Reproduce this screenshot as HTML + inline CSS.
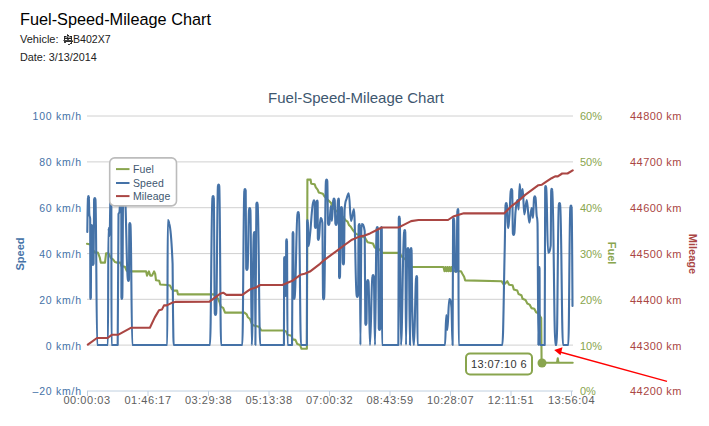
<!DOCTYPE html>
<html><head><meta charset="utf-8">
<style>
html,body{margin:0;padding:0;background:#fff;width:709px;height:426px;overflow:hidden}
body{font-family:"Liberation Sans",sans-serif;position:relative}
.h{position:absolute;left:20px;top:10px;font-size:16.3px;color:#000;white-space:nowrap}
.v{position:absolute;left:20px;font-size:11px;color:#222;white-space:nowrap}
svg{position:absolute;left:0;top:0}
svg text{font-family:"Liberation Sans",sans-serif}
</style></head><body>
<div class="h">Fuel-Speed-Mileage Chart</div>
<div class="v" style="top:33px">Vehicle:</div>
<svg width="12" height="14" viewBox="62 33 12 14" style="left:62px;top:33px;position:absolute" shape-rendering="crispEdges"><rect x="67" y="34" width="1" height="1" fill="#666"/><rect x="67" y="35" width="2" height="1" fill="#222"/><rect x="64" y="36" width="2" height="1" fill="#222"/><rect x="66" y="36" width="4" height="1" fill="#888"/><rect x="70" y="36" width="2" height="1" fill="#222"/><rect x="64" y="37" width="1" height="1" fill="#333"/><rect x="65" y="37" width="2" height="1" fill="#aaa"/><rect x="67" y="37" width="1" height="1" fill="#333"/><rect x="68" y="37" width="3" height="1" fill="#aaa"/><rect x="71" y="37" width="1" height="1" fill="#333"/><rect x="64" y="38" width="8" height="1" fill="#222"/><rect x="64" y="39" width="1" height="1" fill="#333"/><rect x="67" y="39" width="2" height="1" fill="#555"/><rect x="71" y="39" width="1" height="1" fill="#333"/><rect x="63" y="40" width="1" height="1" fill="#888"/><rect x="64" y="40" width="8" height="1" fill="#444"/><rect x="72" y="40" width="1" height="1" fill="#888"/><rect x="64" y="41" width="9" height="1" fill="#333"/><rect x="64" y="42" width="2" height="1" fill="#444"/><rect x="71" y="42" width="1" height="1" fill="#333"/><rect x="70" y="43" width="2" height="1" fill="#333"/><rect x="68" y="44" width="2" height="1" fill="#444"/></svg>
<div class="v" style="top:33px;left:73px;font-size:10.6px">B402X7</div>
<div class="v" style="top:51px;font-size:10.8px">Date: 3/13/2014</div>
<svg width="709" height="426" viewBox="0 0 709 426">
<g stroke="#d0d0d0" stroke-width="1" fill="none">
<path d="M87 116H573M87 161.9H573M87 207.7H573M87 253.6H573M87 299.3H573M87 345.1H573"/>
</g>
<g stroke="#c0d0e0" stroke-width="1" fill="none">
<path d="M87 391H573"/>
<path d="M87.5 391V396M148 391V396M208.5 391V396M269 391V396M329.5 391V396M390 391V396M450.5 391V396M511 391V396M571.5 391V396"/>
</g>
<text x="356" y="103" text-anchor="middle" font-size="15" fill="#3e576f">Fuel-Speed-Mileage Chart</text>
<g font-size="10.5" fill="#4572a7" text-anchor="end" letter-spacing="0.75">
<text x="81.8" y="120">100 km/h</text>
<text x="81.8" y="166">80 km/h</text>
<text x="81.8" y="212">60 km/h</text>
<text x="81.8" y="258">40 km/h</text>
<text x="81.8" y="304">20 km/h</text>
<text x="81.8" y="350">0 km/h</text>
<text x="81.8" y="395">–20 km/h</text>
</g>
<g font-size="11" fill="#89a54e">
<text x="580" y="120">60%</text>
<text x="580" y="166">50%</text>
<text x="580" y="212">40%</text>
<text x="580" y="258">30%</text>
<text x="580" y="304">20%</text>
<text x="580" y="350">10%</text>
<text x="580" y="395">0%</text>
</g>
<g font-size="11" fill="#aa4643" letter-spacing="0.45">
<text x="630" y="120">44800 km</text>
<text x="630" y="166">44700 km</text>
<text x="630" y="212">44600 km</text>
<text x="630" y="258">44500 km</text>
<text x="630" y="304">44400 km</text>
<text x="630" y="350">44300 km</text>
<text x="630" y="395">44200 km</text>
</g>
<g font-size="11" fill="#606060" text-anchor="middle" letter-spacing="0.55">
<text x="87" y="404">00:00:03</text>
<text x="148" y="404">01:46:17</text>
<text x="208.5" y="404">03:29:38</text>
<text x="269" y="404">05:13:38</text>
<text x="329.5" y="404">07:00:32</text>
<text x="390" y="404">08:43:59</text>
<text x="450.5" y="404">10:28:07</text>
<text x="511" y="404">12:11:51</text>
<text x="571.5" y="404">13:56:04</text>
</g>
<text transform="translate(24,254) rotate(-90)" text-anchor="middle" font-size="11" font-weight="bold" fill="#4572a7">Speed</text>
<text transform="translate(608,253) rotate(90)" text-anchor="middle" font-size="11" font-weight="bold" fill="#89a54e">Fuel</text>
<text transform="translate(689,254) rotate(90)" text-anchor="middle" font-size="11" font-weight="bold" fill="#aa4643">Mileage</text>
<g fill="none" stroke-width="2.1" stroke-linejoin="round" stroke-linecap="round">
<path stroke="#89a54e" d="M87 243.8 L90.5 244.5 L93 250 L95 252.6 L97.9 252.6 L99.7 257.3 L100.8 262.6 L105 262.6 L106.1 253.2 L108.5 253.2 L110.8 257.9 L113.2 259.6 L114.9 262 L116.7 262.6 L120.5 262.6 L121.4 266.1 L124.9 266.7 L126.7 270.8 L129.6 271.4 L146.1 271.4 L147 275.6 L148.9 271.4 L150.3 275.6 L152 275.6 L154.1 271.4 L155.2 274 L156 280.3 L159.2 280.8 L160.2 284.5 L167.2 285 L170 285.5 L171.9 289.2 L173.8 290.6 L177.1 290.6 L178 294.4 L213.8 294.4 L217.9 298.5 L219.7 302.6 L220.9 306.7 L223.2 307.9 L225 312.6 L244.4 312.6 L246.7 314.4 L247.9 317.3 L250 319 L252 324 L253.8 325.5 L259 326.7 L261.4 330.5 L284.1 330.5 L286.5 331.9 L287.4 334.7 L291.6 335.7 L292.6 339.4 L295.4 339.9 L297.3 344.1 L300.1 345 L301.5 348.8 L306.9 348.8 L307.4 179.6 L310.6 179.6 L311.2 183.7 L314.7 184.3 L315.8 187.3 L317.6 189.6 L318.8 192.5 L322.9 193.7 L324.6 196.6 L326.4 198.4 L328.8 200.8 L331.1 203.1 L332.1 206.8 L336 210.7 L339.3 213.3 L343 217 L345.7 220.3 L347.6 221.6 L348.9 224.9 L350.8 226.8 L352.8 230 L356 233.9 L365 237.8 L367.6 242.3 L373 243.5 L374.7 247.6 L379.4 249.4 L382.3 252.9 L398.2 252.9 L400.5 254.6 L402.3 257 L405 259 L408 262 L411.9 267 L443.5 267 L444.5 271.3 L445.5 267 L446.5 271.3 L447.5 267 L448.5 271.3 L449.5 267 L450.5 271.3 L451.5 267 L452.5 271.2 L461 271.2 L462.5 274 L464.1 276.7 L465.2 280.4 L501.5 281.2 L503.8 284.7 L507.3 281.2 L509.1 284.7 L512.6 285.3 L513.8 289.4 L517.3 290.5 L518.5 294 L521.4 295.2 L522.6 298.8 L525.5 299.9 L527.3 303.5 L529.6 304.6 L531.4 308.1 L534.3 308.7 L536.1 312.3 L538.4 313.4 L540 316 L541.2 318 L541.6 362.7 L557 362.7 L557.8 358.3 L558.5 362.7 L572.7 362.7"/>
<path stroke="#4572a7" stroke-width="2.1" d="M87.3 232C87.30 232.00 87.73 199.00 88.02 197.5C88.21 196.00 88.31 196.00 88.5 196C88.63 196.00 88.69 196.00 88.82 197.5C89.01 199.00 89.11 209.00 89.3 214C89.66 219.00 89.84 214.00 90.2 219C90.25 224.00 90.27 296.00 90.32 297.5C90.35 299.00 90.37 299.00 90.4 299C90.59 299.00 90.69 299.00 90.88 297.5C90.98 296.00 91.02 228.00 91.12 226.5C91.31 225.00 91.41 225.00 91.6 225C91.81 225.00 91.91 225.00 92.12 226.5C92.22 228.00 92.28 262.00 92.38 263.5C92.59 265.00 92.69 265.00 92.9 265C93.18 265.00 93.32 265.00 93.6 263.5C93.80 262.00 93.90 201.00 94.1 199.5C94.38 198.00 94.52 198.00 94.8 198C95.08 198.00 95.22 198.00 95.5 199.5C96.18 201.00 96.52 345.00 97.2 345C101.50 345.00 103.65 345.00 107.95 345C108.13 345.00 108.22 228.00 108.4 228C108.88 228.00 109.12 236.00 109.6 236C109.98 236.00 110.18 195.00 110.56 193.5C110.82 192.00 110.94 192.00 111.2 192C111.25 192.00 111.28 192.00 111.326 193.5C111.40 195.00 111.44 345.00 111.515 345C113.98 345.00 115.22 345.00 117.69 345C118.01 345.00 118.18 216.00 118.5 214C118.90 212.00 119.10 214.00 119.5 212C119.86 210.00 120.04 193.00 120.4 191.5C120.64 190.00 120.76 190.00 121 190C121.11 190.00 121.17 190.00 121.28 191.5C121.34 193.00 121.36 296.00 121.42 297.5C121.53 299.00 121.59 299.00 121.7 299C121.94 299.00 122.06 299.00 122.3 297.5C122.66 296.00 122.84 190.00 123.2 190C123.92 190.00 124.28 190.00 125 196C126.12 202.00 126.68 278.00 127.8 279.5C128.08 281.00 128.22 281.00 128.5 281C128.71 281.00 128.81 281.00 129.02 279.5C129.12 278.00 129.18 226.00 129.28 224.5C129.49 223.00 129.59 223.00 129.8 223C130.08 223.00 130.22 223.00 130.5 224.5C131.22 226.00 131.58 345.00 132.3 345C146.28 345.00 153.28 345.00 167.26 345C167.48 345.00 167.58 220.00 167.8 220C168.40 220.00 168.70 220.00 169.3 224C170.62 228.00 171.28 232.96 172.6 264C172.76 267.76 172.84 299.43 173 311C173.29 331.83 173.43 345.00 173.72 345C188.23 345.00 195.49 345.00 210 345C210.96 345.00 211.44 199.00 212.4 197.5C212.68 196.00 212.82 196.00 213.1 196C213.38 196.00 213.52 196.00 213.8 197.5C214.20 199.00 214.40 312.00 214.8 313.5C215.08 315.00 215.22 315.00 215.5 315C215.78 315.00 215.92 315.00 216.2 313.5C216.88 312.00 217.22 187.50 217.9 186C218.18 184.50 218.32 184.50 218.6 184.5C218.88 184.50 219.02 184.50 219.3 186C220.02 187.50 220.38 345.00 221.1 345C229.58 345.00 233.82 345.00 242.3 345C243.10 345.00 243.50 192.00 244.3 190.5C244.58 189.00 244.72 189.00 245 189C245.28 189.00 245.42 189.00 245.7 190.5C245.90 192.00 246.00 267.00 246.2 268.5C246.48 270.00 246.62 270.00 246.9 270C247.18 270.00 247.32 270.00 247.6 268.5C248.16 267.00 248.44 211.00 249 209.5C249.28 208.00 249.42 208.00 249.7 208C249.98 208.00 250.12 208.00 250.4 209.5C250.96 211.00 251.24 345.00 251.8 345C252.60 345.00 253.00 235.00 253.8 233.5C254.08 232.00 254.22 232.00 254.5 232C254.64 232.00 254.72 232.00 254.86 233.5C255.08 235.00 255.18 345.00 255.4 345C255.78 345.00 255.98 205.50 256.36 204C256.62 202.50 256.74 202.50 257 202.5C257.28 202.50 257.42 202.50 257.7 204C258.70 205.50 259.20 345.00 260.2 345C269.70 345.00 274.44 345.00 283.94 345C284.03 345.00 284.07 260.00 284.156 258.5C284.21 257.00 284.24 257.00 284.3 257C284.51 257.00 284.61 257.00 284.82 258.5C284.92 260.00 284.98 293.00 285.08 294.5C285.29 296.00 285.39 296.00 285.6 296C285.76 296.00 285.84 296.00 286 294.5C286.08 293.00 286.12 242.40 286.2 240.9C286.36 239.40 286.44 239.40 286.6 239.4C286.75 239.40 286.83 239.40 286.978 240.9C287.20 242.40 287.32 345.00 287.545 345C289.35 345.00 290.25 345.00 292.055 345C292.28 345.00 292.40 235.00 292.622 233.5C292.77 232.00 292.85 232.00 293 232C293.16 232.00 293.24 232.00 293.4 233.5C293.48 235.00 293.52 296.00 293.6 297.5C293.76 299.00 293.84 299.00 294 299C294.28 299.00 294.42 299.00 294.7 297.5C295.82 296.00 296.38 215.00 297.5 213.5C297.78 212.00 297.92 212.00 298.2 212C298.48 212.00 298.62 212.00 298.9 213.5C299.74 215.00 300.16 345.00 301 345C303.34 345.00 304.51 345.00 306.85 345C306.96 345.00 307.01 223.00 307.12 221.5C307.19 220.00 307.23 220.00 307.3 220C307.49 220.00 307.59 220.00 307.78 221.5C308.07 223.00 308.21 246.00 308.5 246C309.10 246.00 309.40 240.51 310 235C311.32 222.87 311.98 203.40 313.3 201.9C313.58 200.40 313.72 200.40 314 200.4C314.24 200.40 314.36 200.40 314.6 201.9C314.72 203.40 314.78 225.00 314.9 226.5C315.14 228.00 315.26 228.00 315.5 228C315.78 228.00 315.92 228.00 316.2 226.5C316.36 225.00 316.44 203.50 316.6 202C316.88 200.50 317.02 200.50 317.3 200.5C317.44 200.50 317.52 200.50 317.66 202C317.73 203.50 317.77 237.00 317.84 238.5C317.98 240.00 318.06 240.00 318.2 240C318.48 240.00 318.62 240.00 318.9 238.5C319.54 237.00 319.86 218.00 320.5 218C321.26 218.00 321.64 218.00 322.4 223C322.66 228.00 322.80 296.40 323.06 297.9C323.24 299.40 323.32 299.40 323.5 299.4C323.78 299.40 323.92 299.40 324.2 297.9C324.88 296.40 325.22 182.50 325.9 181C326.18 179.50 326.32 179.50 326.6 179.5C326.88 179.50 327.02 179.50 327.3 181C327.58 182.50 327.72 222.00 328 223.5C328.28 225.00 328.42 225.00 328.7 225C328.98 225.00 329.12 225.00 329.4 223.5C329.96 222.00 330.24 206.00 330.8 206C331.24 206.00 331.46 221.00 331.9 221C332.46 221.00 332.74 201.50 333.3 200C333.58 198.50 333.72 198.50 334 198.5C334.28 198.50 334.42 198.50 334.7 200C334.98 201.50 335.12 222.00 335.4 223.5C335.68 225.00 335.82 225.00 336.1 225C336.38 225.00 336.52 225.00 336.8 223.5C337.28 222.00 337.52 201.50 338 200C338.28 198.50 338.42 198.50 338.7 198.5C338.80 198.50 338.84 198.50 338.94 200C338.99 201.50 339.01 275.20 339.06 276.7C339.16 278.20 339.20 278.20 339.3 278.2C339.58 278.20 339.72 278.20 340 276.7C340.28 275.20 340.42 210.00 340.7 208.5C340.98 207.00 341.12 207.00 341.4 207C341.68 207.00 341.82 207.00 342.1 208.5C342.38 210.00 342.52 261.50 342.8 263C343.08 264.50 343.22 264.50 343.5 264.5C343.68 264.50 343.76 264.50 343.94 263C344.20 261.50 344.34 221.50 344.6 210C345.44 198.50 345.86 201.86 346.7 198.5C347.54 195.14 347.96 193.20 348.8 193.2C349.68 193.20 350.12 221.00 351 221C352.20 221.00 352.80 209.00 354 209C355.04 209.00 355.56 294.00 356.6 295.5C356.88 297.00 357.02 297.00 357.3 297C357.58 297.00 357.72 297.00 358 295.5C358.28 294.00 358.42 227.00 358.7 225.5C358.98 224.00 359.12 224.00 359.4 224C359.56 224.00 359.64 224.00 359.8 225.5C360.04 227.00 360.16 345.00 360.4 345C360.84 345.00 361.06 224.00 361.5 224C362.78 224.00 363.42 224.00 364.7 231C364.94 238.00 365.06 322.00 365.3 323.5C365.46 325.00 365.54 325.00 365.7 325C365.98 325.00 366.12 325.00 366.4 323.5C366.68 322.00 366.82 283.00 367.1 281.5C367.38 280.00 367.52 280.00 367.8 280C368.08 280.00 368.22 280.00 368.5 281.5C369.10 283.00 369.40 345.00 370 345C370.96 345.00 371.44 278.00 372.4 276.5C372.68 275.00 372.82 275.00 373.1 275C373.38 275.00 373.52 275.00 373.8 276.5C374.28 278.00 374.52 345.00 375 345C375.64 345.00 375.96 230.00 376.6 228.5C376.88 227.00 377.02 227.00 377.3 227C377.58 227.00 377.72 227.00 378 228.5C378.32 230.00 378.48 327.00 378.8 328.5C379.08 330.00 379.22 330.00 379.5 330C379.78 330.00 379.92 330.00 380.2 328.5C380.48 327.00 380.62 230.00 380.9 228.5C381.18 227.00 381.32 227.00 381.6 227C381.67 227.00 381.71 227.00 381.78 228.5C381.89 230.00 381.94 345.00 382.05 345C388.56 345.00 391.82 345.00 398.335 345C398.52 345.00 398.61 219.50 398.794 218C398.92 216.50 398.98 216.50 399.1 216.5C399.38 216.50 399.52 216.50 399.8 218C400.28 219.50 400.52 345.00 401 345C402.24 345.00 402.86 233.00 404.1 231.5C404.38 230.00 404.52 230.00 404.8 230C404.99 230.00 405.09 230.00 405.28 231.5C405.57 233.00 405.71 345.00 406 345C406.52 345.00 406.78 251.00 407.3 249.5C407.58 248.00 407.72 248.00 408 248C408.28 248.00 408.42 248.00 408.7 249.5C409.22 251.00 409.48 345.00 410 345C410.26 345.00 410.40 251.00 410.66 249.5C410.84 248.00 410.92 248.00 411.1 248C411.28 248.00 411.36 248.00 411.54 249.5C411.80 251.00 411.94 295.45 412.2 305.7C412.92 333.65 413.28 345.00 414 345C414.84 345.00 415.26 279.00 416.1 277.5C416.38 276.00 416.52 276.00 416.8 276C416.92 276.00 416.98 276.00 417.106 277.5C417.29 279.00 417.38 345.00 417.565 345C428.54 345.00 434.03 345.00 445 345C445.52 345.00 445.78 315.00 446.3 315C446.70 315.00 446.90 330.00 447.3 330C448.10 330.00 448.50 299.00 449.3 299C450.18 299.00 450.62 299.00 451.5 308C451.94 317.00 452.16 345.00 452.6 345C452.79 345.00 452.89 221.00 453.08 219.5C453.21 218.00 453.27 218.00 453.4 218C453.68 218.00 453.82 218.00 454.1 219.5C454.54 221.00 454.76 269.00 455.2 270.5C455.48 272.00 455.62 272.00 455.9 272C456.18 272.00 456.32 272.00 456.6 270.5C456.92 269.00 457.08 212.00 457.4 210.5C457.68 209.00 457.82 209.00 458.1 209C458.19 209.00 458.24 209.00 458.334 210.5C458.47 212.00 458.54 345.00 458.685 345C476.13 345.00 484.85 345.00 502.3 345C503.26 345.00 503.74 290.87 504.7 250C505.06 234.67 505.24 206.00 505.6 204.5C505.84 203.00 505.96 203.00 506.2 203C506.47 203.00 506.61 203.00 506.88 204.5C507.29 206.00 507.49 228.00 507.9 228C508.54 228.00 508.86 223.28 509.5 215C510.02 208.28 510.28 192.00 510.8 190.5C511.08 189.00 511.22 189.00 511.5 189C511.78 189.00 511.92 189.00 512.2 190.5C512.48 192.00 512.62 232.00 512.9 233.5C513.18 235.00 513.32 235.00 513.6 235C513.88 235.00 514.02 235.00 514.3 233.5C514.78 232.00 515.02 216.73 515.5 212C516.38 203.33 516.82 200.00 517.7 200C518.06 200.00 518.24 209.50 518.6 209.5C519.04 209.50 519.26 184.00 519.7 184C520.22 184.00 520.48 198.00 521 198C521.68 198.00 522.02 189.00 522.7 189C523.34 189.00 523.66 214.50 524.3 214.5C525.30 214.50 525.80 200.00 526.8 200C527.80 200.00 528.30 222.70 529.3 222.7C530.26 222.70 530.74 208.00 531.7 208C532.22 208.00 532.48 218.00 533 218C533.44 218.00 533.66 199.40 534.1 197.9C534.38 196.40 534.52 196.40 534.8 196.4C535.08 196.40 535.22 196.40 535.5 197.9C535.94 199.40 536.16 209.48 536.6 215C536.96 219.52 537.14 215.00 537.5 223C537.86 231.00 538.04 345.00 538.4 345C538.62 345.00 538.72 270.00 538.94 268.5C539.08 267.00 539.16 267.00 539.3 267C539.39 267.00 539.43 267.00 539.516 268.5C539.65 270.00 539.71 345.00 539.84 345C541.78 345.00 542.75 345.00 544.69 345C544.88 345.00 544.98 189.00 545.176 187.5C545.31 186.00 545.37 186.00 545.5 186C545.78 186.00 545.92 186.00 546.2 187.5C546.96 189.00 547.34 252.60 548.1 252.6C549.14 252.60 549.66 252.60 550.7 245.6C550.92 238.60 551.02 191.80 551.24 190.3C551.38 188.80 551.46 188.80 551.6 188.8C551.88 188.80 552.02 188.80 552.3 190.3C553.54 191.80 554.16 345.00 555.4 345C555.88 345.00 556.12 345.00 556.6 345C557.48 345.00 557.92 206.00 558.8 204.5C559.08 203.00 559.22 203.00 559.5 203C559.78 203.00 559.92 203.00 560.2 204.5C561.32 206.00 561.88 345.00 563 345C565.12 345.00 566.18 345.00 568.3 345C569.10 345.00 569.50 208.50 570.3 207C570.58 205.50 570.72 205.50 571 205.5C571.24 205.50 571.36 205.50 571.6 207C571.96 208.50 572.50 306.00 572.5 306"/>
<path stroke="#aa4643" d="M87.8 344.7 L97 338 L107.6 338 L111.8 334.8 L118 334.8 L130.8 327.8 L149.9 327.8 L154.8 317.4 L159 310.3 L161.9 309.6 L164 305.4 L166.8 305.4 L172.4 302.6 L175.3 301.9 L209.5 301.6 L220 293.8 L223.2 292.7 L226.4 294.9 L242.3 294.9 L249.7 289.6 L256 287.5 L260.2 285 L282.4 285 L288.7 282.2 L291.9 281.1 L300.4 274.8 L304.6 273.7 L309.9 271.6 L320 263.8 L324.5 259.8 L336.1 251.3 L344.6 245 L352 239.7 L359.4 236.6 L364.7 235.5 L370 233.4 L376.3 230.2 L381.6 227.5 L398.5 227.5 L403.7 224.9 L411.1 221.1 L418.5 220 L448 220 L453.2 216.5 L459.6 214.4 L463.8 213.3 L504.1 213.4 L511.1 206.4 L518.2 201.1 L525.2 194.9 L532.3 189.6 L538.4 185.2 L541.9 184.7 L546.3 181.7 L551.6 178.2 L555.1 176.4 L557.8 176.4 L562.2 173.5 L567.5 173.5 L572.7 170.3"/>
</g>
<circle cx="542" cy="363" r="4.5" fill="#89a54e"/>
<rect x="466" y="353.5" width="66" height="21" rx="4" fill="#fff" stroke="#89a54e" stroke-width="2"/>
<text x="499" y="368" text-anchor="middle" font-size="11" fill="#333" letter-spacing="0.4">13:07:10 6</text>
<g>
<line x1="667" y1="381.3" x2="560" y2="352" stroke="#ff0000" stroke-width="1.3"/>
<path d="M554.2 350.1 L562.5 347.2 L560.5 355.2 Z" fill="#ff0000"/>
</g>
<rect x="109.7" y="157.9" width="66.8" height="48" rx="5" fill="#fff" stroke="#bcbcbc" stroke-width="1.6"/>
<g stroke-width="2">
<path stroke="#89a54e" d="M116 169.1H129.5"/>
<path stroke="#4572a7" d="M116 183H129.5"/>
<path stroke="#aa4643" d="M116 196.1H129.5"/>
</g>
<g font-size="10.5" fill="#3e576f" letter-spacing="0.1">
<text x="133" y="172.5">Fuel</text>
<text x="133" y="186.5">Speed</text>
<text x="133" y="199.5">Mileage</text>
</g>
</svg>
</body></html>
